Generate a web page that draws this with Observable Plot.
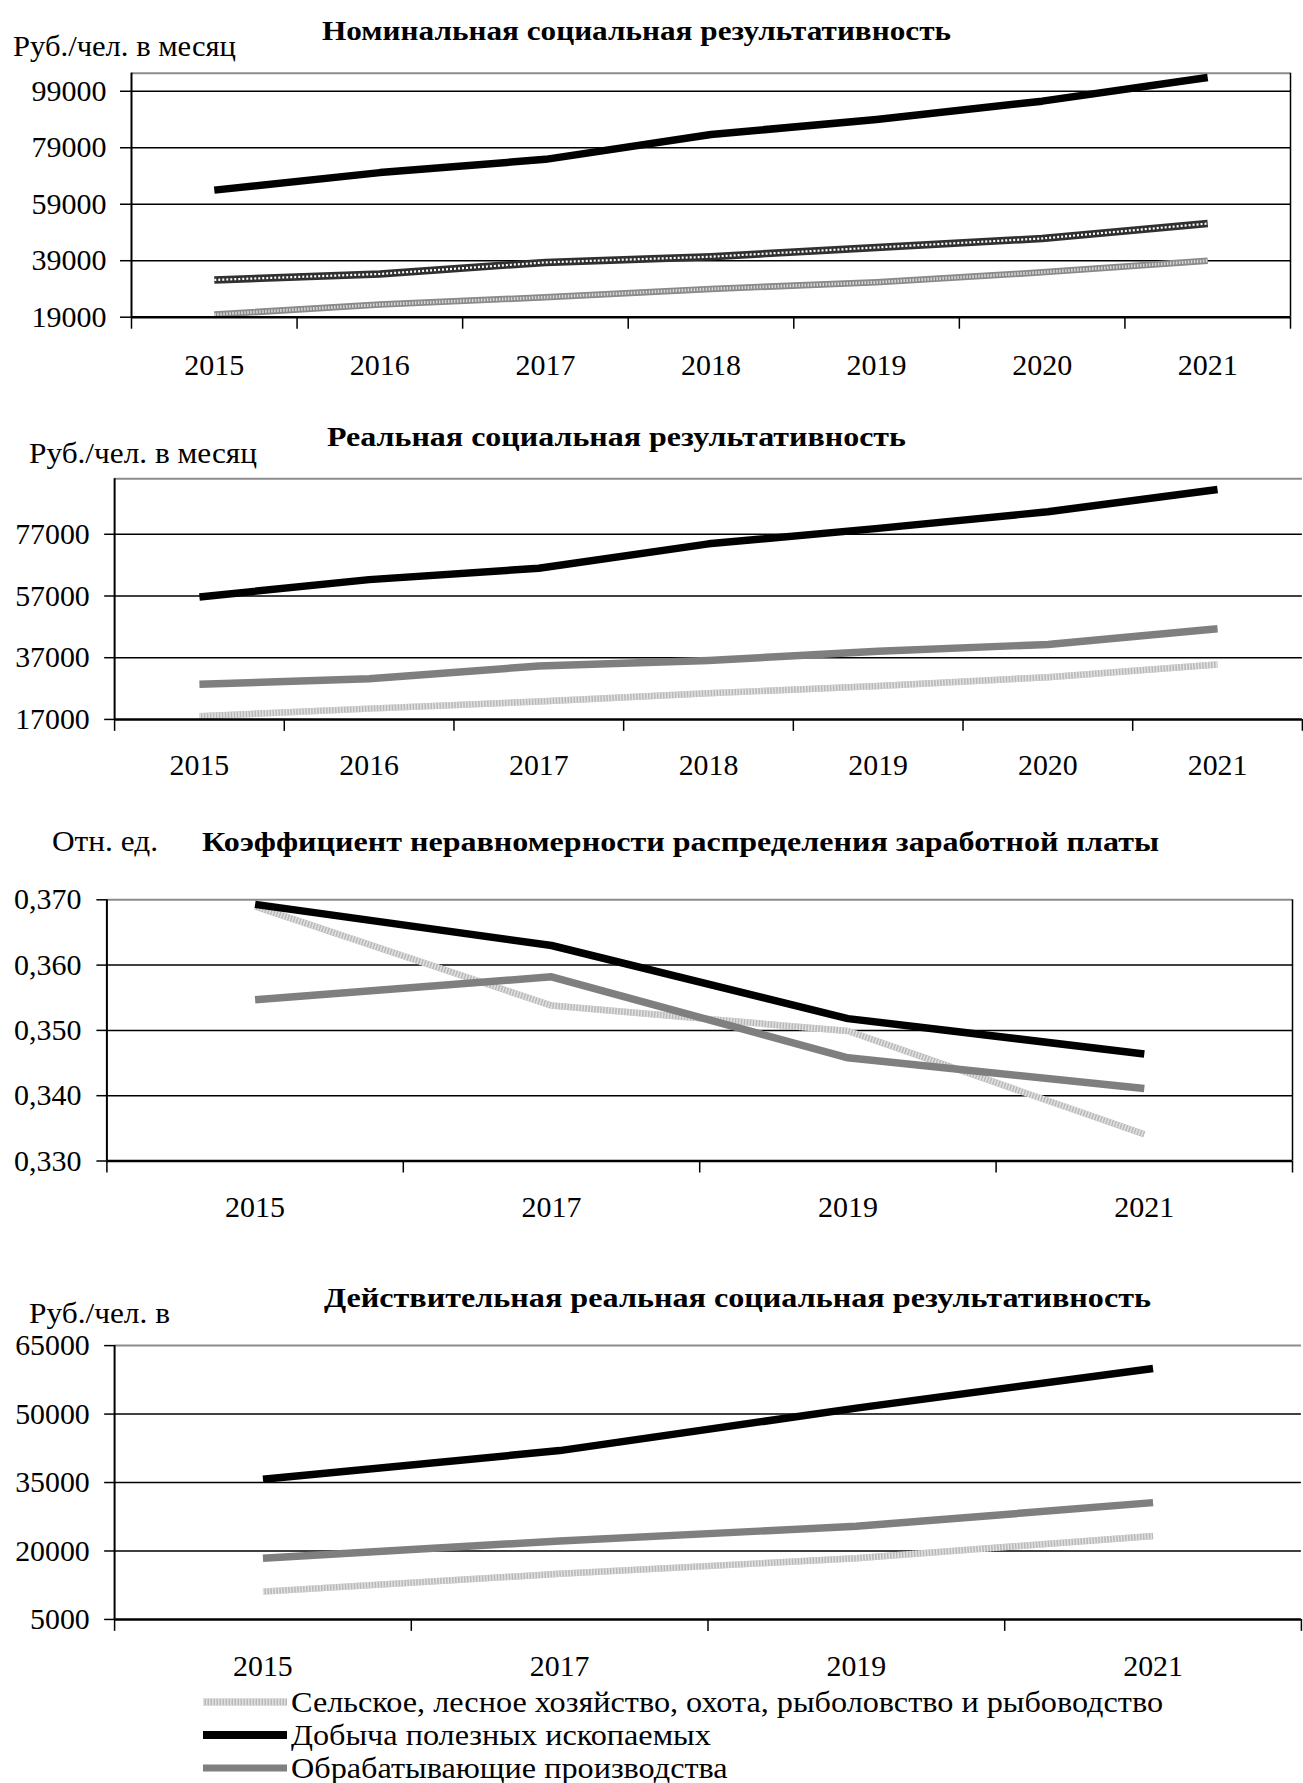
<!DOCTYPE html>
<html><head><meta charset="utf-8">
<script src="https://cdn.jsdelivr.net/npm/d3@7"></script>
<script src="https://cdn.jsdelivr.net/npm/@observablehq/plot@0.6"></script>
<style>
html,body{margin:0;padding:0;background:#fff;}
body{width:1303px;height:1783px;position:relative;overflow:hidden;font-family:'Liberation Serif','Times New Roman',serif;color:#000;}
.t{position:absolute;white-space:nowrap;line-height:1;font-size:29px;transform-origin:0 50%;}
.b{font-weight:bold;font-size:28px;}
.leg{position:absolute;left:203px;height:30px;display:flex;align-items:center;white-space:nowrap;font-size:29px;line-height:1;}
.leg svg{margin-right:4px;flex:none;}
.leg span{display:inline-block;transform-origin:0 50%;}
</style></head><body>
<script>
// ---------- DATA ----------
const years7 = [2015, 2016, 2017, 2018, 2019, 2020, 2021];
const years4 = [2015, 2017, 2019, 2021];
const seriesNames = [
  "Сельское, лесное хозяйство, охота, рыболовство и рыбоводство",
  "Добыча полезных ископаемых",
  "Обрабатывающие производства"
];
// Номинальная социальная результативность
const nomAgri   = [19950, 23480, 26060, 29020, 31350, 34880, 39010];
const nomMining = [64000, 70200, 74900, 83700, 89000, 95500, 103900];
const nomManuf  = [32200, 34310, 38410, 40420, 43700, 46880, 52170];
// Реальная социальная результативность
const realAgri   = [18000, 20500, 22800, 25500, 27800, 30700, 34800];
const realMining = [56700, 62300, 66000, 73900, 78900, 84300, 91500];
const realManuf  = [28400, 30200, 34300, 36100, 39100, 41300, 46400];
// Коэффициент неравномерности распределения заработной платы
const coefAgri   = [0.3690, 0.3538, 0.3499, 0.3341];
const coefMining = [0.3693, 0.3630, 0.3518, 0.3464];
const coefManuf  = [0.3547, 0.3582, 0.3458, 0.3411];
// Действительная реальная социальная результативность
const actAgri   = [11100, 15000, 18400, 23300];
const actMining = [35700, 42000, 51300, 60000];
const actManuf  = [18400, 22200, 25400, 30600];
// tick labels
const ticksNom  = [19000, 39000, 59000, 79000, 99000];
const ticksReal = [17000, 37000, 57000, 77000];
const ticksCoef = [0.330, 0.340, 0.350, 0.360, 0.370];
const ticksAct  = [5000, 20000, 35000, 50000, 65000];

// ---------- HELPERS ----------
const rows = (xs, vs) => xs.map((x, i) => ({x, y: vs[i]}));
const FONT = "'Liberation Serif','Times New Roman',serif";

function chart(o) {
  const inner = o.yTicks.filter(v => v !== o.yDomain[0] && v !== o.yDomain[1]);
  const marks = [
    Plot.ruleY(inner, {stroke: "#000", strokeWidth: 1.5}),
    Plot.ruleY([o.yDomain[1]], {stroke: "#8c8c8c", strokeWidth: 2}),
    Plot.axisY({ticks: o.yTicks, tickSize: o.tsY, tickPadding: o.padY, tickFormat: o.yFmt, strokeWidth: 1.5, label: null}),
    Plot.axisX({ticks: o.xBounds, tickSize: 12, tickFormat: () => "", strokeWidth: 1.5, label: null}),
    Plot.axisX({ticks: o.xLabels, tickSize: 0, tickPadding: o.padX, tickFormat: d => String(d), label: null})
  ];
  for (const s of o.series) {
    marks.push(Plot.line(s.data, {x: "x", y: "y", stroke: s.c, strokeWidth: s.w, strokeLinecap: "butt", strokeLinejoin: "round"}));
    if (s.ov) marks.push(Plot.line(s.data, {x: "x", y: "y", stroke: s.ov, strokeWidth: s.ow, strokeDasharray: s.dash, strokeLinecap: "butt", strokeLinejoin: "round"}));
  }
  marks.push(Plot.ruleX([o.xDomain[0]], {stroke: "#000", strokeWidth: 2}));
  marks.push(Plot.ruleY([o.yDomain[0]], {stroke: "#000", strokeWidth: 2.5}));
  if (o.right) marks.push(Plot.ruleX([o.xDomain[1]], {stroke: "#000", strokeWidth: 1.5}));
  const svg = Plot.plot({
    width: o.width, height: o.height,
    marginTop: o.mt, marginBottom: o.mb, marginLeft: o.ml, marginRight: o.mr,
    x: {type: "linear", domain: o.xDomain},
    y: {type: "linear", domain: o.yDomain},
    style: {fontFamily: FONT, fontSize: "30px", color: "#000", background: "none", overflow: "visible"},
    marks
  });
  svg.style.position = "absolute";
  svg.style.left = "0px";
  svg.style.top = o.top + "px";
  document.body.appendChild(svg);
}

// place a text and stretch it horizontally to the width it has in the reference
function text(str, left, top, targetW, cls) {
  const d = document.createElement("div");
  d.className = "t " + (cls || "");
  d.textContent = str;
  d.style.left = left + "px";
  d.style.top = top + "px";
  document.body.appendChild(d);
  const w = d.getBoundingClientRect().width;
  if (targetW && w > 0) d.style.transform = "scaleX(" + (targetW / w) + ")";
}

const st = {
  mining: {c: "#000", w: 7.5},
  manuf1: {c: "#303030", w: 7.5, ov: "#ffffff", ow: 2.2, dash: "2,2"},
  agri1: {c: "#8a8a8a", w: 6.5, ov: "#d8d8d8", ow: 3, dash: "1.5,1.5"},
  manuf: {c: "#7f7f7f", w: 7.5},
  agri: {c: "#b8b8b8", w: 6.5, ov: "#e2e2e2", ow: 6.5, dash: "1.5,1.5"}
};
const fmtInt = d => String(d);
const fmtCoef = d => d.toFixed(3).replace(".", ",");
const bounds7 = d3.range(years7[0] - 0.5, years7[years7.length - 1] + 1, 1);
const bounds4 = d3.range(years4[0] - 1, years4[years4.length - 1] + 2, 2);

// ---------- CHART 1 ----------
text("Номинальная социальная результативность", 322, 17, 629, "b");
text("Руб./чел. в месяц", 12.5, 32, 223);
chart({
  top: 60, width: 1303, height: 340, mt: 12.7, mb: 83.3, ml: 131, mr: 13,
  xDomain: [bounds7[0], bounds7[bounds7.length - 1]], xBounds: bounds7, xLabels: years7,
  yDomain: [19000, 105400], yTicks: ticksNom, yFmt: fmtInt, tsY: 11, padY: 14, padX: 36.7, right: true,
  series: [
    {data: rows(years7, nomAgri), ...st.agri1},
    {data: rows(years7, nomManuf), ...st.manuf1},
    {data: rows(years7, nomMining), ...st.mining}
  ]
});

// ---------- CHART 2 ----------
text("Реальная социальная результативность", 326.5, 422.7, 579, "b");
text("Руб./чел. в месяц", 29, 438.5, 228);
chart({
  top: 465, width: 1310, height: 340, mt: 13.3, mb: 84.7, ml: 114.7, mr: 1.1,
  xDomain: [bounds7[0], bounds7[bounds7.length - 1]], xBounds: bounds7, xLabels: years7,
  yDomain: [17000, 95000], yTicks: ticksReal, yFmt: fmtInt, tsY: 10, padY: 15, padX: 35, right: false,
  series: [
    {data: rows(years7, realAgri), ...st.agri},
    {data: rows(years7, realManuf), ...st.manuf},
    {data: rows(years7, realMining), ...st.mining}
  ]
});

// ---------- CHART 3 ----------
text("Отн. ед.", 52, 827.2, 106);
text("Коэффициент неравномерности распределения заработной платы", 202, 827.7, 957, "b");
chart({
  top: 885, width: 1303, height: 350, mt: 14.3, mb: 74.5, ml: 106.4, mr: 11,
  xDomain: [bounds4[0], bounds4[bounds4.length - 1]], xBounds: bounds4, xLabels: years4,
  yDomain: [0.330, 0.370], yTicks: ticksCoef, yFmt: fmtCoef, tsY: 10, padY: 15.5, padX: 35, right: true,
  series: [
    {data: rows(years4, coefAgri), ...st.agri},
    {data: rows(years4, coefManuf), ...st.manuf},
    {data: rows(years4, coefMining), ...st.mining}
  ]
});

// ---------- CHART 4 ----------
text("Действительная реальная социальная результативность", 324, 1283.6, 827, "b");
text("Руб./чел. в", 29, 1298.5, 141);
chart({
  top: 1330, width: 1310, height: 365, mt: 15.2, mb: 74.5, ml: 114.7, mr: 2.1,
  xDomain: [bounds4[0], bounds4[bounds4.length - 1]], xBounds: bounds4, xLabels: years4,
  yDomain: [5000, 65000], yTicks: ticksAct, yFmt: fmtInt, tsY: 10, padY: 15, padX: 36, right: false,
  series: [
    {data: rows(years4, actAgri), ...st.agri},
    {data: rows(years4, actManuf), ...st.manuf},
    {data: rows(years4, actMining), ...st.mining}
  ]
});

// ---------- LEGEND ----------
const legStyles = [st.agri, st.mining, st.manuf];
const legCenters = [1702, 1735, 1768];
let legScale = null;
seriesNames.forEach((name, i) => {
  const s = legStyles[i];
  const d = document.createElement("div");
  d.className = "leg";
  d.style.top = (legCenters[i] - 15) + "px";
  const ns = "http://www.w3.org/2000/svg";
  const sv = document.createElementNS(ns, "svg");
  sv.setAttribute("width", 84); sv.setAttribute("height", 12);
  const l = document.createElementNS(ns, "line");
  l.setAttribute("x1", 0); l.setAttribute("x2", 84); l.setAttribute("y1", 6); l.setAttribute("y2", 6);
  l.setAttribute("stroke", s.c); l.setAttribute("stroke-width", s === st.mining ? 8 : 7);
  sv.appendChild(l);
  if (s.ov) {
    const l2 = l.cloneNode();
    l2.setAttribute("stroke", s.ov); l2.setAttribute("stroke-width", 7); l2.setAttribute("stroke-dasharray", s.dash);
    sv.appendChild(l2);
  }
  d.appendChild(sv);
  const sp = document.createElement("span");
  sp.textContent = name;
  d.appendChild(sp);
  document.body.appendChild(d);
  if (legScale === null) legScale = 872 / sp.getBoundingClientRect().width;
  sp.style.transform = "scaleX(" + legScale + ")";
});
</script>
</body></html>
